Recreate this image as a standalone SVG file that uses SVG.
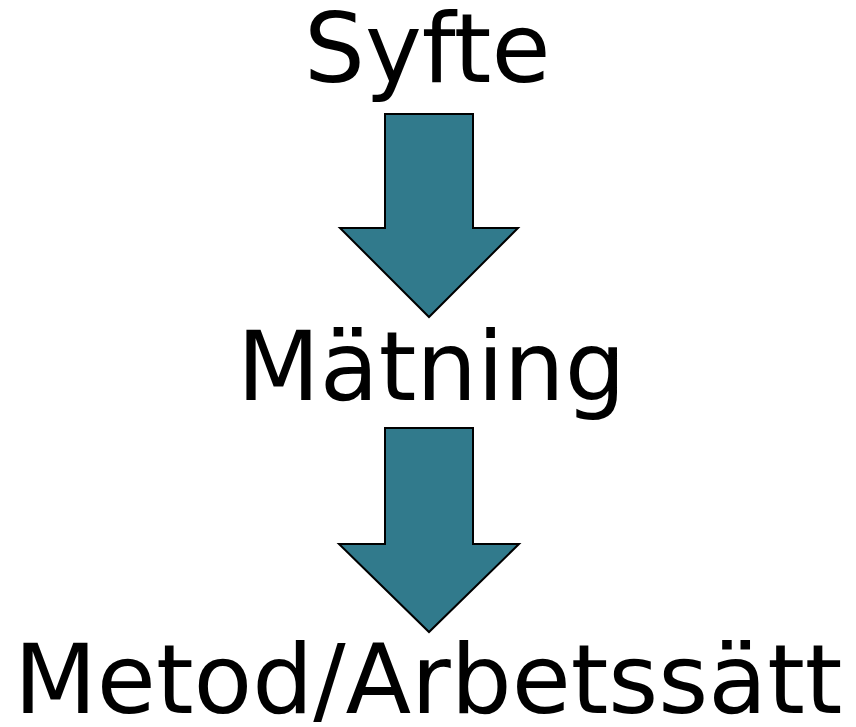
<svg xmlns="http://www.w3.org/2000/svg" width="856" height="727" viewBox="0 0 856 727">
<style>
.lbl{font-family:"DejaVu Sans","Verdana",sans-serif;font-size:96px;fill:#000}
.arr{fill:#317A8C;stroke:#000;stroke-width:2;stroke-linejoin:miter}
</style>
<rect width="856" height="727" fill="#fff"/>
<g id="node-syfte"><text class="lbl" x="304" y="82">Syfte</text></g>
<g id="node-matning"><text class="lbl" x="237" y="400">Mätning</text></g>
<g id="node-metod"><text class="lbl" x="14" y="713">Metod/Arbetssätt</text></g>
<g id="connectors">
<polygon class="arr" points="385,114 473,114 473,228 518,228 429,317 340,228 385,228"/>
<polygon class="arr" points="385,428 473,428 473,544 519,544 429,632 339,544 385,544"/>
</g>
</svg>
